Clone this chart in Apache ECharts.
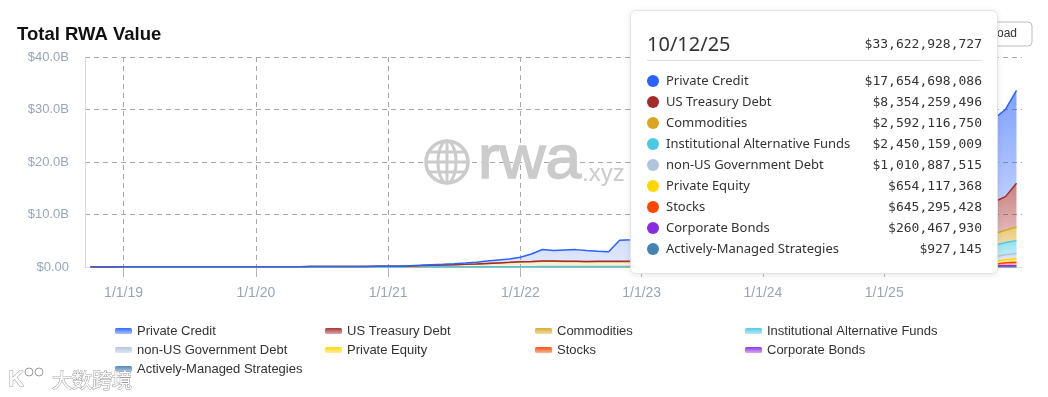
<!DOCTYPE html>
<html>
<head>
<meta charset="utf-8">
<script src="https://cdn.jsdelivr.net/npm/echarts@6/dist/echarts.min.js"></script>
<style>
  html, body { margin: 0; padding: 0; background: #fff; }
  #main { width: 1048px; height: 397px; }
</style>
</head>
<body>
<div id="main"></div>
<script>
// sample dates (one per category on the x axis)
const dates = [
  '2018-10-01','2018-11-01','2018-12-01',
  '2019-01-01','2019-02-01','2019-03-01','2019-04-01','2019-05-01','2019-06-01','2019-07-01','2019-08-01','2019-09-01','2019-10-01','2019-11-01','2019-12-01',
  '2020-01-01','2020-02-01','2020-03-01','2020-04-01','2020-05-01','2020-06-01','2020-07-01','2020-08-01','2020-09-01','2020-10-01','2020-11-01','2020-12-01',
  '2021-01-01','2021-02-01','2021-03-01','2021-04-01','2021-05-01','2021-06-01','2021-07-01','2021-08-01','2021-09-01','2021-10-01','2021-11-01','2021-12-01',
  '2022-01-01','2022-02-03','2022-03-08','2022-04-10','2022-05-13','2022-06-15','2022-07-18','2022-08-20','2022-09-22','2022-10-25','2022-11-27',
  '2023-01-01','2023-02-03','2023-03-08','2023-04-10','2023-05-13','2023-06-15','2023-07-18','2023-08-20','2023-09-22','2023-10-25','2023-11-27',
  '2024-01-01','2024-02-03','2024-03-08','2024-04-10','2024-05-13','2024-06-15','2024-07-18','2024-08-20','2024-09-22','2024-10-25','2024-11-27',
  '2025-01-01','2025-01-24','2025-02-16','2025-03-11','2025-04-03','2025-04-26','2025-05-19','2025-06-11','2025-07-04','2025-07-27','2025-08-19','2025-09-11','2025-10-12'
];

// values in billions of USD
const privateCredit = [
  0,0,0,
  0,0,0,0,0,0,0,0,0,0,0,0,
  0,0,0,0,0,0,0,0,0,0,0,0,
  0,0,0.01,0.03,0.08,0.13,0.18,0.25,0.35,0.45,0.55,0.65,
  0.85,1.4,2.2,2.0,2.15,2.2,2.05,1.9,1.8,4.0,4.05,
  4.1,4.15,4.2,4.3,4.4,4.5,4.6,4.7,4.8,4.9,5.0,
  5.2,5.5,6.0,6.5,7.0,7.5,8.0,8.4,8.8,9.2,9.6,
  10.0,10.4,11.0,11.6,12.2,12.8,13.5,14.0,14.6,15.2,15.9,16.6,17.654698086
];
const usTreasury = [
  0,0,0,
  0,0,0,0,0,0,0,0,0,0,0,0,
  0,0,0,0,0,0,0,0,0,0,0,0,
  0,0,0,0,0,0,0,0,0.01,0.01,0.02,0.03,
  0.04,0.05,0.06,0.07,0.08,0.08,0.09,0.1,0.1,0.11,0.12,
  0.14,0.2,0.3,0.4,0.5,0.6,0.7,0.75,0.8,0.85,0.8,
  0.8,0.85,0.9,1.2,1.4,1.6,1.8,2.0,2.1,2.2,2.4,
  3.0,3.2,3.6,4.0,4.4,4.8,5.0,5.3,5.6,5.8,6.1,6.4,8.354259496
];
const commodities = [
  0.01,0.01,0.01,
  0.02,0.02,0.02,0.02,0.03,0.03,0.03,0.03,0.03,0.04,0.04,0.04,
  0.04,0.05,0.05,0.05,0.05,0.06,0.07,0.08,0.08,0.08,0.09,0.1,
  0.1,0.12,0.18,0.25,0.3,0.35,0.4,0.45,0.5,0.6,0.7,0.8,
  0.9,0.95,1.0,1.0,0.95,0.95,0.9,0.9,0.9,0.88,0.9,
  0.95,0.95,1.0,1.0,1.0,0.95,0.95,0.95,0.95,1.0,1.05,
  1.05,1.05,1.1,1.15,1.15,1.2,1.2,1.2,1.25,1.25,1.3,
  1.35,1.4,1.5,1.6,1.6,1.65,1.7,1.8,1.9,2.0,2.2,2.35,2.59211675
];
const instAltFunds = [
  0,0,0,
  0.01,0.01,0.01,0.01,0.01,0.01,0.01,0.01,0.01,0.01,0.01,0.01,
  0.01,0.01,0.01,0.01,0.01,0.02,0.02,0.02,0.02,0.02,0.02,0.02,
  0.02,0.02,0.03,0.03,0.04,0.04,0.05,0.05,0.05,0.06,0.06,0.06,
  0.07,0.07,0.08,0.08,0.08,0.08,0.08,0.08,0.08,0.08,0.08,
  0.08,0.08,0.09,0.09,0.1,0.1,0.1,0.1,0.1,0.1,0.12,
  0.15,0.2,0.25,0.3,0.35,0.4,0.5,0.6,0.7,0.8,0.9,
  1.0,1.1,1.2,1.3,1.4,1.5,1.6,1.7,1.8,1.9,2.15,2.3,2.450159009
];
const nonUsGovDebt = [
  0,0,0,
  0,0,0,0,0,0,0,0,0,0,0,0,
  0,0,0,0,0,0,0,0,0,0,0,0,
  0,0,0,0,0,0,0,0,0,0,0,0,
  0,0,0,0,0,0,0,0,0.01,0.02,0.03,
  0.04,0.05,0.05,0.06,0.06,0.07,0.07,0.08,0.08,0.09,0.1,
  0.1,0.12,0.15,0.18,0.2,0.25,0.3,0.35,0.4,0.45,0.5,
  0.55,0.6,0.62,0.65,0.7,0.72,0.75,0.78,0.8,0.85,0.9,0.95,1.010887515
];
const privateEquity = [
  0,0,0,
  0,0,0,0,0,0,0,0,0,0,0,0,
  0,0,0,0,0,0,0,0,0,0,0,0,
  0,0,0,0,0,0,0,0,0,0,0,0,
  0,0,0,0,0,0,0,0,0,0,0,
  0,0,0,0,0,0,0,0,0,0,0,
  0.01,0.02,0.03,0.05,0.08,0.1,0.15,0.2,0.25,0.3,0.35,
  0.38,0.4,0.42,0.45,0.47,0.5,0.5,0.52,0.53,0.54,0.55,0.6,0.654117368
];
const stocks = [
  0,0,0,
  0,0,0,0,0,0,0,0,0,0,0,0,
  0,0,0,0,0,0,0,0,0,0,0,0,
  0,0,0,0,0,0,0,0,0,0,0,0,
  0,0,0,0,0,0,0,0,0,0,0,
  0,0,0,0,0,0,0,0,0,0,0,
  0.005,0.005,0.005,0.01,0.01,0.01,0.01,0.01,0.01,0.01,0.01,
  0.02,0.02,0.03,0.03,0.04,0.05,0.06,0.1,0.15,0.25,0.3,0.55,0.645295428
];
const corporateBonds = [
  0,0,0,
  0,0,0,0,0,0,0,0,0,0,0,0,
  0,0,0,0,0,0,0,0,0,0,0,0,
  0,0,0,0,0,0,0,0,0,0,0,0,
  0,0,0,0,0,0,0,0,0,0,0,
  0,0,0,0,0,0,0,0,0,0,0,
  0.02,0.03,0.04,0.05,0.06,0.08,0.1,0.12,0.14,0.15,0.16,
  0.17,0.18,0.18,0.19,0.2,0.2,0.21,0.21,0.22,0.22,0.22,0.25,0.26046793
];
const activelyManaged = [
  0,0,0,
  0,0,0,0,0,0,0,0,0,0,0,0,
  0,0,0,0,0,0,0,0,0,0,0,0,
  0,0,0,0,0,0,0,0,0,0,0,0,
  0,0,0,0,0,0,0,0,0,0,0,
  0,0,0,0,0,0,0,0,0,0,0,
  0,0,0,0,0,0,0,0,0,0,0,
  0,0,0,0,0,0,0.0005,0.0006,0.0007,0.0008,0.0008,0.0009,0.000927145
];

const yTicks = [0, 10, 20, 30, 40];

// stack order: first one sits at the bottom
const seriesDefs = [
  { name: 'Actively-Managed Strategies', color: '#4682b4', data: activelyManaged },
  { name: 'Corporate Bonds', color: '#8a2be2', data: corporateBonds },
  { name: 'Stocks', color: '#ff4500', data: stocks },
  { name: 'Private Equity', color: '#ffd700', data: privateEquity },
  { name: 'non-US Government Debt', color: '#b0c4de', data: nonUsGovDebt },
  { name: 'Institutional Alternative Funds', color: '#48cae4', data: instAltFunds },
  { name: 'Commodities', color: '#daa520', data: commodities },
  { name: 'US Treasury Debt', color: '#a52a2a', data: usTreasury },
  { name: 'Private Credit', color: '#2962ff', data: privateCredit }
];
const legendOrder = ['Private Credit','US Treasury Debt','Commodities','Institutional Alternative Funds',
  'non-US Government Debt','Private Equity','Stocks','Corporate Bonds','Actively-Managed Strategies'];
const byName = {};
seriesDefs.forEach(s => byName[s.name] = s);

function rgba(hex, a) {
  const n = parseInt(hex.slice(1), 16);
  return 'rgba(' + (n >> 16) + ',' + ((n >> 8) & 255) + ',' + (n & 255) + ',' + a + ')';
}
function grad(hex, a0, a1) {
  return new echarts.graphic.LinearGradient(0, 0, 0, 1, [
    { offset: 0, color: rgba(hex, a0) },
    { offset: 1, color: rgba(hex, a1) }
  ]);
}
function shortDate(d) {
  const p = d.split('-');
  return (+p[1]) + '/' + (+p[2]) + '/' + p[0].slice(2);
}
function money(v) {
  return '$' + v.toLocaleString('en-US');
}
const isYearStart = (i, v) => v.slice(5) === '01-01';

var dom = document.getElementById('main');
var myChart = echarts.init(dom, null, { renderer: 'canvas' });

const mono = "'DejaVu Sans Mono', monospace";
const sans = "'Noto Sans', sans-serif";
const wm = '#cbcbcb';

var option = {
  animation: false,
  title: {
    text: 'Total RWA Value', left: 17, top: 25, padding: 0,
    textStyle: { fontSize: 18.5, fontWeight: 'bold', color: '#111', fontFamily: 'Liberation Sans' }
  },
  grid: { left: 85, right: 26, top: 57, bottom: 130 },
  legend: [
    [115, ['Private Credit', 'non-US Government Debt', 'Actively-Managed Strategies']],
    [325, ['US Treasury Debt', 'Private Equity']],
    [535, ['Commodities', 'Stocks']],
    [745, ['Institutional Alternative Funds', 'Corporate Bonds']]
  ].map(([left, names]) => ({
    left: left, top: 324, orient: 'vertical', padding: 0,
    itemGap: 5, itemWidth: 17, itemHeight: 6, icon: 'roundRect',
    textStyle: { fontSize: 13, color: '#333', fontFamily: 'Liberation Sans', lineHeight: 14 },
    data: names.map(n => ({ name: n, itemStyle: { color: grad(byName[n].color, 0.95, 0.4) } }))
  })),
  tooltip: {
    trigger: 'axis',
    triggerOn: 'none',
    alwaysShowContent: true,
    position: [630, 10],
    axisPointer: { type: 'none' },
    backgroundColor: '#fff',
    borderColor: '#e1e3e8',
    borderWidth: 1,
    borderRadius: 6,
    padding: [18, 15, 14, 16],
    transitionDuration: 0,
    extraCssText: 'width:335px;box-shadow:0 1px 6px rgba(0,0,0,0.10);',
    formatter: function (params) {
      const i = params[0].dataIndex;
      const rows = legendOrder.map(n => ({ name: n, color: byName[n].color, v: Math.round(byName[n].data[i] * 1e9) }));
      const total = rows.reduce((a, r) => a + r.v, 0);
      let html = '<div style="display:flex;justify-content:space-between;align-items:center;height:28px;">' +
        '<span style="font-family:' + sans + ';font-size:20px;color:#333;">' + shortDate(dates[i]) + '</span>' +
        '<span style="font-family:' + mono + ';font-size:13px;color:#333;">' + money(total) + '</span></div>' +
        '<div style="border-top:1px solid #dcdfe6;margin:3px 0 9px 0;height:0;"></div>';
      rows.forEach(r => {
        html += '<div style="display:flex;align-items:center;height:21px;">' +
          '<span style="display:inline-block;width:12px;height:12px;border-radius:50%;background:' + r.color + ';margin-right:7px;"></span>' +
          '<span style="flex:1;font-family:' + sans + ';font-size:13px;color:#333;">' + r.name + '</span>' +
          '<span style="font-family:' + mono + ';font-size:13px;color:#333;">' + money(r.v) + '</span></div>';
      });
      return html;
    }
  },
  xAxis: {
    type: 'category',
    data: dates,
    boundaryGap: true,
    axisLine: { show: true, lineStyle: { color: '#d3dae6', width: 1 } },
    axisTick: { show: true, interval: isYearStart, alignWithLabel: true, length: 10, lineStyle: { color: '#b5b5b5' } },
    axisLabel: {
      interval: isYearStart, margin: 19, color: '#9aa5b8', fontSize: 14, fontFamily: 'Liberation Sans',
      formatter: v => shortDate(v)
    },
    splitLine: { show: true, interval: isYearStart, alignWithLabel: true, lineStyle: { color: '#a8a8a8', type: [5, 4] } }
  },
  yAxis: {
    type: 'value',
    min: yTicks[0], max: yTicks[yTicks.length - 1], interval: 10,
    axisLine: { show: true, lineStyle: { color: '#d3dae6' } },
    axisTick: { show: false },
    axisLabel: {
      margin: 16, color: '#9aa5b8', fontSize: 13, fontFamily: 'Liberation Sans',
      formatter: v => v === 0 ? '$0.00' : '$' + v.toFixed(1) + 'B'
    },
    splitLine: { show: true, lineStyle: { color: '#a8a8a8', type: [5, 4] } }
  },
  graphic: [
    // rwa.xyz watermark
    { type: 'circle', shape: { cx: 447, cy: 162, r: 21 }, style: { fill: 'none', stroke: wm, lineWidth: 3.5 }, z: 1 },
    { type: 'ellipse', shape: { cx: 447, cy: 162, rx: 9, ry: 21 }, style: { fill: 'none', stroke: wm, lineWidth: 3 }, z: 1 },
    { type: 'line', shape: { x1: 426, y1: 162, x2: 468, y2: 162 }, style: { stroke: wm, lineWidth: 3 }, z: 1 },
    { type: 'line', shape: { x1: 429, y1: 152, x2: 465, y2: 152 }, style: { stroke: wm, lineWidth: 3 }, z: 1 },
    { type: 'line', shape: { x1: 429, y1: 172, x2: 465, y2: 172 }, style: { stroke: wm, lineWidth: 3 }, z: 1 },
    { type: 'line', shape: { x1: 447, y1: 141, x2: 447, y2: 183 }, style: { stroke: wm, lineWidth: 3 }, z: 1 },
    { type: 'text', x: 478, y: 192, originX: 0, originY: 0, scaleY: 0.95,
      style: { text: 'rwa', font: '64px Liberation Sans', fill: wm, stroke: wm, lineWidth: 1.5, verticalAlign: 'bottom' }, z: 1 },
    { type: 'text', x: 582, y: 186, style: { text: '.xyz', font: '24px Liberation Sans', fill: wm, verticalAlign: 'bottom' }, z: 1 },
    // download button (mostly under the tooltip)
    { type: 'rect', shape: { x: 952, y: 22, width: 80, height: 24, r: 4 }, style: { fill: '#fff', stroke: '#b9bcc2', lineWidth: 1 }, z: 5 },
    { type: 'text', x: 1017, y: 34, style: { text: 'Download', font: '12px Liberation Sans', fill: '#333', align: 'right', verticalAlign: 'middle' }, z: 6 },
    // bottom-left image watermark
    { type: 'text', x: 8, y: 380, style: { text: 'K', font: 'bold 22px Liberation Sans', fill: '#fff', stroke: '#9a9a9a', lineWidth: 1, verticalAlign: 'middle' }, z: 6 },
    { type: 'circle', shape: { cx: 29, cy: 372, r: 4 }, style: { fill: '#fff', stroke: '#9a9a9a', lineWidth: 1 }, z: 6 },
    { type: 'circle', shape: { cx: 39, cy: 372, r: 4 }, style: { fill: '#fff', stroke: '#9a9a9a', lineWidth: 1 }, z: 6 },
    { type: 'text', x: 52, y: 380, style: { text: '大数跨境', font: '20px Noto Sans CJK SC', fill: '#fff', stroke: '#9a9a9a', lineWidth: 1, verticalAlign: 'middle' }, z: 6 }
  ],
  series: seriesDefs.map(s => ({
    name: s.name,
    type: 'line',
    stack: 'total',
    data: s.data,
    symbol: 'none',
    showSymbol: false,
    lineStyle: { width: 1.5, color: s.color },
    itemStyle: { color: s.color },
    areaStyle: { color: grad(s.color, 0.85, 0.2) },
    emphasis: { disabled: true },
    z: 3
  }))
};

if (option && typeof option === 'object') {
  myChart.setOption(option);
  myChart.dispatchAction({ type: 'showTip', seriesIndex: seriesDefs.length - 1, dataIndex: dates.length - 1 });
}
</script>
</body>
</html>
